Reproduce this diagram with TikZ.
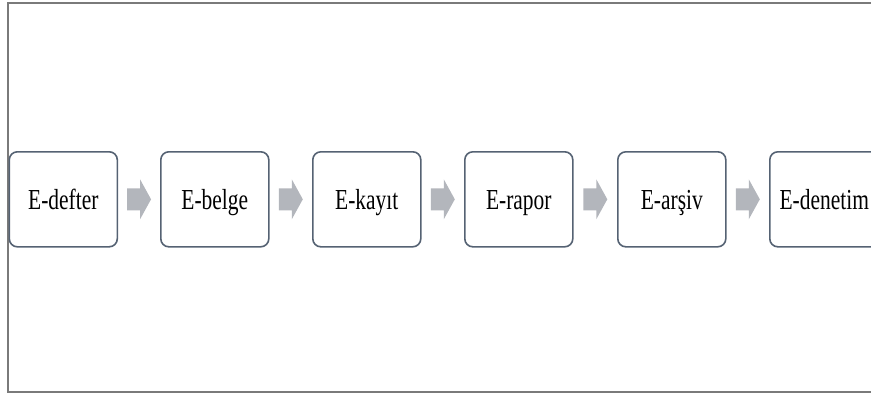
\documentclass[tikz,border=0pt]{standalone}
\usepackage{fontspec}
\setmainfont{Liberation Serif}
\definecolor{boxline}{HTML}{556273}
\definecolor{arrowgray}{HTML}{B3B6BC}
\definecolor{framegray}{HTML}{7A7A7A}
\begin{document}
\begin{tikzpicture}[x=1pt,y=-1pt,
  stepbox/.style={draw=boxline, line width=1.6pt, rounded corners=8pt, minimum width=108pt, minimum height=95pt, inner sep=0pt, anchor=north west,
     text height=21pt, text depth=0pt, font=\fontsize{29}{30}\selectfont}
]
\useasboundingbox (0,0) rectangle (871,394);
\draw[framegray, line width=2pt] (880,2.5) -- (7.5,2.5) -- (7.5,392) -- (880,392);
\newcommand{\sqz}[1]{\scalebox{0.74}[1]{#1}}
\node[stepbox] (b1) at (8.5,151) {\sqz{E-defter}};
\node[stepbox] (b2) at (160,151) {\sqz{E-belge}};
\node[stepbox] (b3) at (312,151) {\sqz{E-kayıt}};
\node[stepbox] (b4) at (464,151) {\sqz{E-rapor}};
\node[stepbox] (b5) at (617,151) {\sqz{E-arşiv}};
\node[stepbox, minimum width=115pt] (b6) at (769,151) {\hspace*{-6pt}\sqz{E-denetim}};
\foreach \a/\b in {b1/b2,b2/b3,b3/b4,b4/b5,b5/b6}{
  \path (\a.east) -- (\b.west) coordinate[pos=0.5] (m\a);
  \fill[arrowgray] ([xshift=-12pt,yshift=-11pt]m\a) -- ([xshift=1pt,yshift=-11pt]m\a) -- ([xshift=1pt,yshift=-20pt]m\a)
     -- ([xshift=12pt]m\a) -- ([xshift=1pt,yshift=20pt]m\a) -- ([xshift=1pt,yshift=11pt]m\a) -- ([xshift=-12pt,yshift=11pt]m\a) -- cycle;
}
\end{tikzpicture}
\end{document}
